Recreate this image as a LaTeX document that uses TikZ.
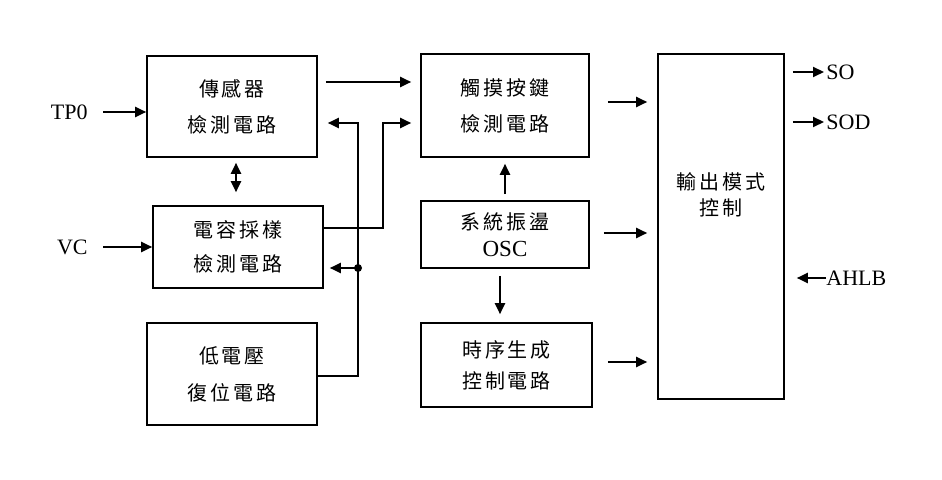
\documentclass[tikz,border=0pt]{standalone}
\usepackage{fontspec}
\setmainfont{Liberation Serif}
\newfontfamily\cjk[LetterSpace=14]{Noto Sans CJK TC}
\usetikzlibrary{arrows.meta}
\tikzset{blk/.style={draw, line width=.8pt, inner sep=0pt, align=center,
			font=\cjk\fontsize{10}{18}\selectfont},
	arr/.style={line width=1pt, -{Triangle[length=5.5pt, width=5pt]}},
	arrb/.style={line width=1pt, {Triangle[length=5.5pt, width=5pt]}-{Triangle[length=5.5pt, width=5pt]}},
	lbl/.style={inner sep=0pt, font=\fontsize{11}{12}\selectfont}}

\begin{document}
\begin{tikzpicture}[x=.5pt, y=-.5pt]
	\useasboundingbox (0, 0) rectangle (942, 480);

	\node[blk, minimum width=85pt, minimum height=50.5pt] (SD) at (232, 106.5) {傳感器\\檢測電路};
	\node[blk, minimum width=85pt, minimum height=41pt, font=\cjk\fontsize{10}{17}\selectfont] (CS) at (238, 247) {電容採樣\\檢測電路};
	\node[blk, minimum width=85pt, minimum height=51pt, font=\cjk\fontsize{10}{18.5}\selectfont] (LV) at (232, 374) {低電壓\\復位電路};
	\node[blk, minimum width=84pt, minimum height=51.5pt] (TK) at (505, 105.5) {觸摸按鍵\\檢測電路};
	\node[blk, minimum width=84pt, minimum height=33.5pt, font=\cjk\fontsize{10}{13.5}\selectfont] (OSC) at (505, 234.5) {系統振盪\\{\rmfamily\fontsize{11.5}{13.5}\selectfont OSC}};
	\node[blk, minimum width=85.5pt, minimum height=42pt, font=\cjk\fontsize{10}{15.5}\selectfont] (TG) at (506.5, 365) {時序生成\\控制電路};
	\node[blk, minimum width=63pt, minimum height=172.5pt] (OM) at (721, 226.5) {};
	\node[inner sep=0pt, align=center, font=\cjk\fontsize{10}{13}\selectfont] (OMT) at (721, 195) {輸出模式\\控制};

	\node[lbl, anchor=east] (TP) at (88, 112) {TP0};
	\node[lbl, anchor=east] (VC) at (88, 247) {VC};
	\node[lbl, anchor=west] (SO) at (826, 72) {SO};
	\node[lbl, anchor=west] (SOD) at (826, 122) {SOD};
	\node[lbl, anchor=west] (AH) at (826, 278) {AHLB};

	\coordinate (J) at (358, 268);
	\coordinate (JT) at (358, 123);
	\coordinate (K) at (383, 123);

	% inputs
	\draw[arr, shorten <=7.5pt] (TP.east) -- (SD.west |- TP.east);
	\draw[arr, shorten <=7.5pt] (VC.east) -- (CS.west |- VC.east);
	\draw[arrb] ([shift={(4, 5)}]SD.south) -- ([shift={(-2, -13)}]CS.north);

	% left column to key detection
	\draw[arr, shorten <=4pt, shorten >=4.5pt] (SD.east |- 0,82) -- (TK.west |- 0,82);
	\draw[arr, shorten >=5pt] (LV.east |- 0,376) -| (JT) -- (SD.east |- JT);
	\draw[arr, shorten >=3pt] (J) -- (CS.east |- J);
	\fill (J) circle (2pt);
	\draw[arr, shorten >=4.5pt] (CS.east |- 0,228) -| (K) -- (TK.west |- K);

	% oscillator
	\draw[arr, shorten <=3pt, shorten >=3pt] (OSC.north) -- (TK.south);
	\draw[arr, shorten <=3.5pt, shorten >=4pt] (OSC.south -| 500,0) -- (TG.north -| 500,0);

	% to output mode
	\draw[arr, shorten <=9pt, shorten >=5pt] (TK.east |- 0,102) -- (OM.west |- 0,102);
	\draw[arr, shorten <=7pt, shorten >=5pt] (OSC.east |- 0,233) -- (OM.west |- 0,233);
	\draw[arr, shorten <=7.5pt, shorten >=5pt] (TG.east |- 0,362) -- (OM.west |- 0,362);

	% outputs
	\draw[arr, shorten <=4pt, shorten >=1pt] (OM.east |- SO.west) -- (SO.west);
	\draw[arr, shorten <=4pt, shorten >=1pt] (OM.east |- SOD.west) -- (SOD.west);
	\draw[arr, shorten >=6pt] (AH.west) -- (OM.east |- AH.west);

\end{tikzpicture}
\end{document}
